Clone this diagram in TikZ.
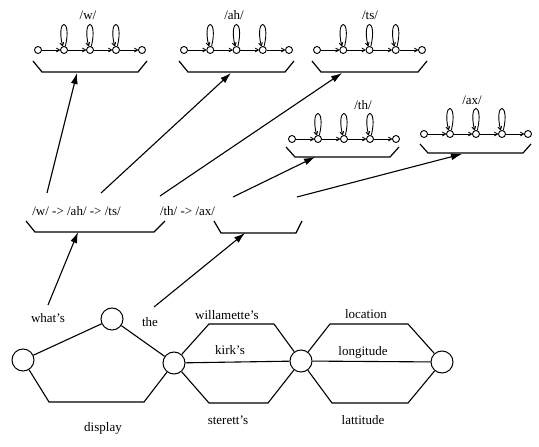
\documentclass[tikz,border=0pt]{standalone}
\usepackage{fontspec}
\setmainfont{Liberation Serif}
\usetikzlibrary{arrows.meta}
\newcommand{\hmmchain}[4]{%
  \foreach \i in {1,...,5} { \node[st] (#1\i) at ({#2+(\i-1)*#4},#3) {}; }
  \foreach \i/\j in {1/2,2/3,3/4,4/5} { \draw[tr] (#1\i) -- (#1\j); }
  \foreach \i in {2,3,4} { \draw[tr] (#1\i.70) .. controls +(7,-29) and +(-7,-29) .. (#1\i.110); }
}
\begin{document}
\begin{tikzpicture}[x=1pt,y=-1pt,
  st/.style={circle,draw,fill=white,inner sep=0pt,minimum size=7pt,line width=0.9pt},
  big/.style={circle,draw,fill=white,inner sep=0pt,minimum size=22pt,line width=1pt},
  lbl/.style={font=\fontsize{13}{15}\selectfont,inner sep=0pt},
  tr/.style={-{To[length=4pt,width=4.5pt]},line width=0.9pt},
  brk/.style={line width=1.2pt},
  bigarrow/.style={-{Latex[length=11pt,width=7pt]},line width=1.1pt},
  edge/.style={line width=1.1pt}]
\useasboundingbox (0,0) rectangle (539,447);

% ---------- top HMMs ----------
\hmmchain{w}{38}{50}{26}
\node[lbl] (lw) at (88,15) {/w/};
\draw[brk] (33,61) -- (42,72) -- (138,72) -- (147,61);

\hmmchain{ah}{184}{50}{26.25}
\node[lbl] (lah) at (234,15) {/ah/};
\draw[brk] (179,61) -- (188,72) -- (285,72) -- (294,61);

\hmmchain{ts}{317}{50}{26.25}
\node[lbl] (lts) at (370,15) {/ts/};
\draw[brk] (312,61) -- (321,72) -- (418,72) -- (427,61);

\hmmchain{th}{292}{139}{26}
\node[lbl] (lth) at (363,105) {/th/};
\draw[brk] (286,147) -- (295,157) -- (390,157) -- (399,147);

\hmmchain{ax}{424}{134}{26}
\node[lbl] (lax) at (472,100) {/ax/};
\draw[brk] (420,144) -- (428,153) -- (523,153) -- (531,144);

% ---------- middle level ----------
\node[lbl] (seq1) at (76.5,211) {/w/ -> /ah/ -> /ts/};
\node[lbl] (seq2) at (187.5,211) {/th/ -> /ax/};
\draw[brk] (26,221) -- (35,232) -- (154,232) -- (165,221);
\draw[brk] (214,221) -- (221,233) -- (296,233) -- (302,221);

% arrow end points
\coordinate (s3) at (47,193);  \coordinate (t3) at (77,73);
\coordinate (s4) at (101,193); \coordinate (t4) at (231,73);
\coordinate (s5) at (160,196); \coordinate (t5) at (342,73);
\coordinate (s6) at (233,197); \coordinate (t6) at (315,157);
\coordinate (s7) at (297,197); \coordinate (t7) at (462,154);
\coordinate (s1) at (48,305);  \coordinate (t1) at (78,232);
\coordinate (s2) at (154,307); \coordinate (t2) at (245,233);

\draw[bigarrow] (s3) -- (t3);
\draw[bigarrow] (s4) -- (t4);
\draw[bigarrow] (s5) -- (t5);
\draw[bigarrow] (s6) -- (t6);
\draw[bigarrow] (s7) -- (t7);
\draw[bigarrow] (s1) -- (t1);
\draw[bigarrow] (s2) -- (t2);

% ---------- word lattice ----------
\node[big] (c1) at (23,360) {};
\node[big] (c2) at (112,319) {};
\node[big] (c3) at (174,363) {};
\node[big] (c4) at (301,361) {};
\node[big] (c5) at (442,362) {};

\draw[edge] (c1) -- (c2);
\draw[edge] (c2) -- (c3);
\draw[edge] (c1) -- (49,402) -- (144,402) -- (c3);

\draw[edge] (c3) -- (209,324) -- (274,324) -- (c4);
\draw[edge] (c3) -- (c4);
\draw[edge] (c3) -- (209,403) -- (268,403) -- (c4);

\draw[edge] (c4) -- (330,324) -- (408,324) -- (c5);
\draw[edge] (c4) -- (c5);
\draw[edge] (c4) -- (332,403) -- (408,403) -- (c5);

\node[lbl] (wwhat) at (48,318) {what's};
\node[lbl] (wthe) at (150,322) {the};
\node[lbl] (wdisp) at (103,428) {display};
\node[lbl] (wwil) at (227,315) {willamette's};
\node[lbl] (wkirk) at (230,350) {kirk's};
\node[lbl] (wster) at (228,420) {sterett's};
\node[lbl] (wloc) at (366,314) {location};
\node[lbl] (wlong) at (363,352) {longitude};
\node[lbl] (wlat) at (363,420) {lattitude};
\end{tikzpicture}
\end{document}
